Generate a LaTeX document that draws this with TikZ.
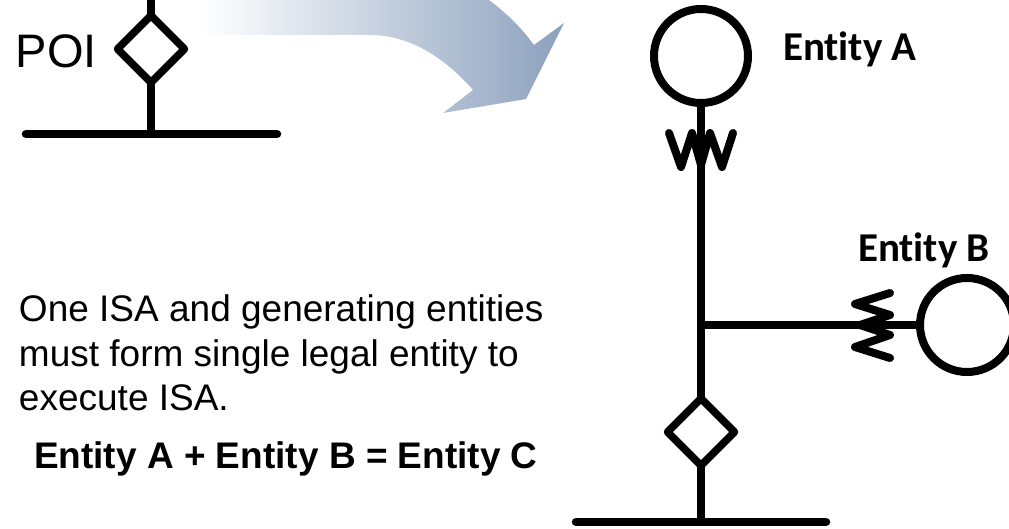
\documentclass[tikz,border=0pt]{standalone}
\usepackage{fontspec}
\setmainfont{Liberation Sans}
\newfontfamily\carlito[Ligatures=NoCommon]{Carlito}
\usetikzlibrary{shapes.geometric}
\definecolor{arrowblue}{HTML}{8CA1BE}
\tikzset{
  x=1pt,y=-1pt,
  wire/.style={line width=8.5pt,line cap=round,line join=round,black},
  wirethin/.style={line width=7.5pt,line cap=butt,black},
  spring/.style={line width=8pt,line cap=round,line join=round,black},
  entity/.style={circle,draw=black,line width=8pt,fill=white,minimum size=94pt,inner sep=0pt,outer sep=0pt},
  poi/.style={diamond,draw=black,line width=7.5pt,line join=round,fill=white,minimum width=67pt,minimum height=67pt,inner sep=0pt,outer sep=0pt,aspect=1},
  label/.style={anchor=base west,inner sep=0pt,outer sep=0pt,text=black},
}
\begin{document}
\begin{tikzpicture}
\useasboundingbox (0,0) rectangle (1009,529);
% big curved arrow
\shade[left color=white,right color=arrowblue,shading angle=0,left color=white,right color=arrowblue]
  (202,0) -- (202,35) -- (370,35)
  .. controls (410,35) and (445,58) .. (473,90)
  -- (443,113) -- (526,99) -- (564,23) -- (534,45)
  .. controls (520,26) and (505,12) .. (489,0) -- cycle;
% left symbol
\coordinate (topl) at (151,0);
\coordinate (barlw) at (26,134);
\coordinate (barle) at (277,134);
\coordinate (stepl) at (151,134);
\node[poi] (dl) at (151,49) {};
\draw[wirethin] (topl) -- (dl.north);
\draw[wirethin] (dl.south) -- (stepl);
\draw[wire] (barlw) -- (barle);
\node[label,font=\fontsize{47}{47}\selectfont] (poitext) at (16,68) {POI};
% right symbol
\node[entity] (ea) at (701,56) {};
\node[entity] (eb) at (967,325) {};
\node[poi] (dr) at (701,432) {};
\coordinate (junction) at (701,325);
\coordinate (barrw) at (576,522);
\coordinate (barre) at (826,522);
\coordinate (stepr) at (701,522);
\draw[wirethin] (ea.south) -- (dr.north);
\draw[wirethin] (junction) -- (eb.west);
\draw[wirethin] (dr.south) -- (stepr);
\draw[wire] (barrw) -- (barre);
\coordinate (wa1) at (669,133);
\coordinate (wa2) at (681,167);
\coordinate (wa3) at (692,133);
\coordinate (wa4) at (701,165);
\coordinate (wa5) at (710,133);
\coordinate (wa6) at (722,167);
\coordinate (wa7) at (733,133);
\draw[spring] (wa1) -- (wa2) -- (wa3) -- (wa4) -- (wa5) -- (wa6) -- (wa7);
\coordinate (wb1) at (890,293);
\coordinate (wb2) at (855,304);
\coordinate (wb3) at (890,315);
\coordinate (wb4) at (860,325);
\coordinate (wb5) at (890,335);
\coordinate (wb6) at (855,347);
\coordinate (wb7) at (890,358);
\draw[spring] (wb1) -- (wb2) -- (wb3) -- (wb4) -- (wb5) -- (wb6) -- (wb7);
% labels
\node[label,font=\carlito\bfseries\fontsize{41}{41}\selectfont] (ta) at (783,61) {Entity A};
\node[label,font=\carlito\bfseries\fontsize{41}{41}\selectfont] (tb) at (858,262) {Entity B};
\node[label,font=\fontsize{37}{37}\selectfont] (t1) at (19,321) {One ISA and generating entities};
\node[label,font=\fontsize{37}{37}\selectfont] (t2) at (19,366) {must form single legal entity to};
\node[label,font=\fontsize{37}{37}\selectfont] (t3) at (19,410) {execute ISA.};
\node[label,font=\bfseries\fontsize{37}{37}\selectfont] (t4) at (34,468) {Entity A + Entity B = Entity C};
\end{tikzpicture}
\end{document}
